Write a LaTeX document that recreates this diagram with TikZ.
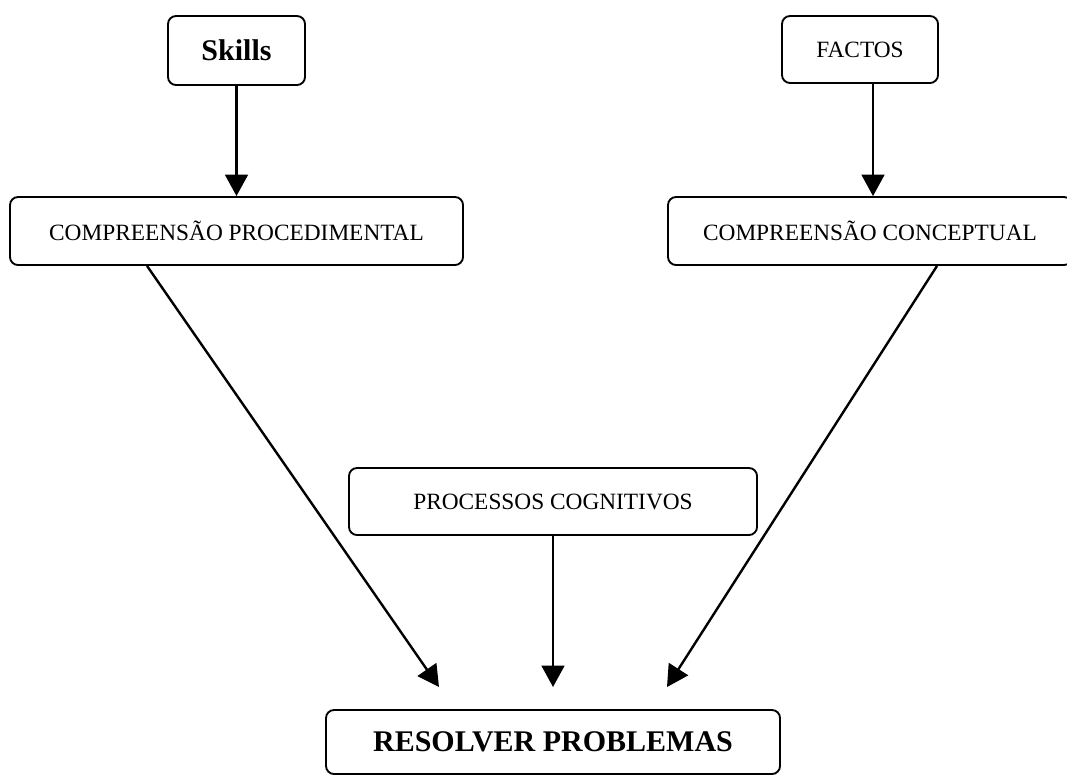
\documentclass[tikz,border=0pt]{standalone}
\usepackage{fontspec}
\setmainfont{Liberation Serif}
\usetikzlibrary{arrows.meta}

\begin{document}
\begin{tikzpicture}[x=0.75pt,y=-0.75pt,
		box/.style={draw,rounded corners=6pt,line width=1.4pt,inner sep=0pt,font=\fontsize{17.5}{20}\selectfont},
		bigbox/.style={box,font=\fontsize{22.5}{26}\selectfont\bfseries},
		arr/.style={line width=1.8pt,-{Triangle[length=16pt,width=17pt]}}]
			\useasboundingbox (0,0) rectangle (1067,775);
			\node[bigbox,minimum width=102.75pt,minimum height=51.75pt] (skills) at (236.5,50.5) {Skills};
			\node[box,minimum width=117pt,minimum height=50.25pt] (factos) at (860,49.5) {FACTOS};
			\node[box,minimum width=339.75pt,minimum height=51pt] (proc) at (236.5,231) {COMPREENSÃO PROCEDIMENTAL};
			\node[box,minimum width=303pt,minimum height=51pt] (conc) at (870,231) {COMPREENSÃO CONCEPTUAL};
			\node[box,minimum width=306pt,minimum height=50.25pt] (cog) at (553,501.5) {PROCESSOS COGNITIVOS};
			\node[bigbox,minimum width=340.5pt,minimum height=48pt] (resolver) at (553,742) {RESOLVER PROBLEMAS};
			\coordinate (fx) at ([xshift=9.75pt]factos.south);
			\coordinate (tipL) at (439,687);
			\coordinate (tipR) at (667,687);
			\draw[arr] (skills.south) -- (proc.north -| skills.south);
			\draw[arr] (fx) -- (fx |- conc.north);
			\draw[arr] ([xshift=-67.1pt]proc.south) -- (tipL);
			\draw[arr] ([xshift=50.25pt]conc.south) -- (tipR);
			\draw[arr] (cog.south) -- (cog |- tipL);
		\end{tikzpicture}
\end{document}
